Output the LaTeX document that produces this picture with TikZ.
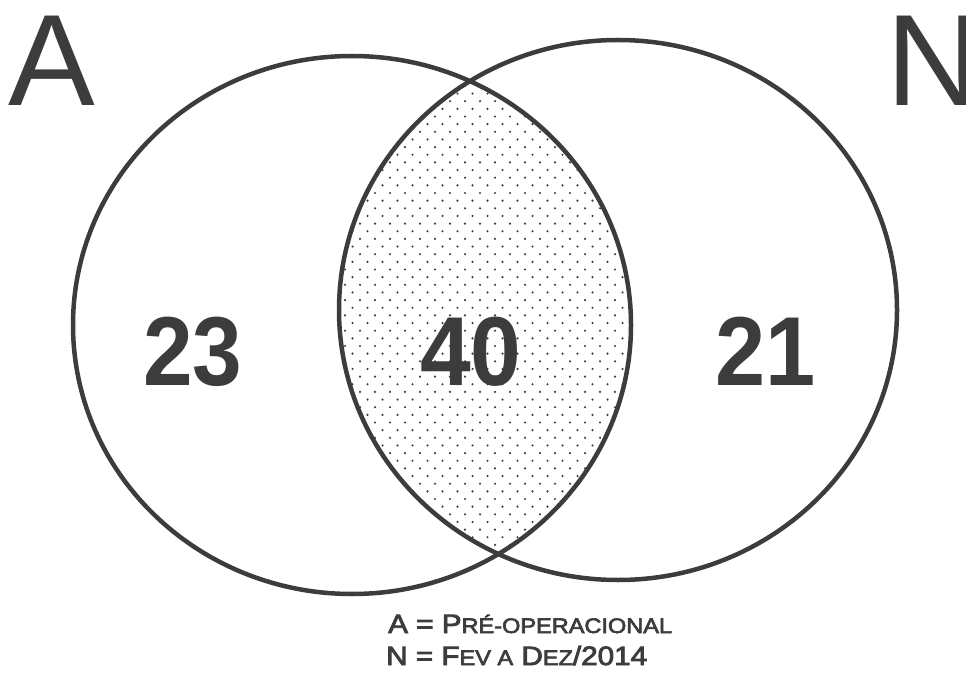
\documentclass[tikz,border=0pt]{standalone}
\usepackage{fontspec}
\setmainfont{Liberation Sans}
\newfontfamily\keyfont[FakeBold=3]{Liberation Sans}
\usepackage{graphicx}

\definecolor{inkgray}{RGB}{60,60,60}
\newcommand{\smc}[1]{{\fontsize{21}{21}\selectfont #1}}

\tikzset{
	setring/.style={draw=inkgray, line width=4.5},
	setname/.style={inner sep=0, anchor=base west, text=inkgray, font=\fontsize{130}{130}\selectfont},
	countlabel/.style={inner sep=0, anchor=base, text=inkgray, font=\bfseries\fontsize{98}{98}\selectfont},
	keyline/.style={inner sep=0, anchor=base west, text=inkgray, font=\keyfont\fontsize{26.5}{26.5}\selectfont}
}

\begin{document}
\begin{tikzpicture}[x=1pt, y=-1pt]
		\useasboundingbox (0,0) rectangle (966,676);

		% Dotted intersection
		\begin{scope}
				\clip (352,325) ellipse (279 and 269);
				\clip (618,310) ellipse (279 and 270);
				\foreach \r in {0,...,72} {
						\foreach \c in {0,...,21} {
								\fill[inkgray] ({330 + \c*15 + mod(\r,2)*7.5}, {40 + \r*7.65}) circle (1.2);
							}
					}
			\end{scope}

		% Draw the two sets
		\draw[setring] (352,325) ellipse (279 and 269);
		\draw[setring] (618,310) ellipse (279 and 270);

		% Set names
		\node[setname] (nameA) at (8,106) {A};
		\node[setname] (nameN) at (886,106) {N};

		% Counts
		\node[countlabel] (onlyA) at (193,385) {\scalebox{0.91}[1]{23}};
		\node[countlabel] (both) at (471,385) {\scalebox{0.93}[1]{40}};
		\node[countlabel] (onlyN) at (766,385) {\scalebox{0.92}[1]{21}};

		% Key
		\node[keyline] (keyA) at (388,633) {\scalebox{1.12}[1]{A = P\smc{RÉ-OPERACIONAL}}};
		\node[keyline] (keyN) at (386,665) {\scalebox{1.12}[1]{N = F\smc{EV A} D\smc{EZ}/2014}};
	\end{tikzpicture}
\end{document}
